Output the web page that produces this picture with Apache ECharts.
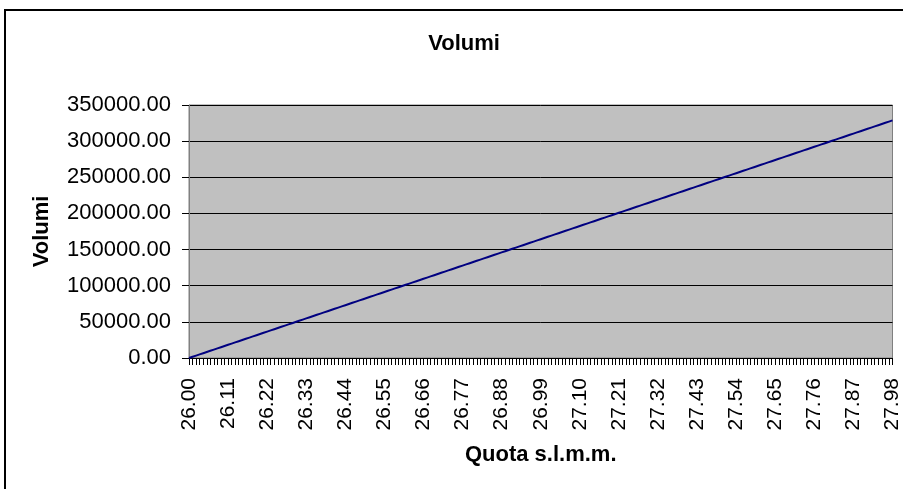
<!DOCTYPE html>
<html>
<head>
<meta charset="utf-8">
<script src="https://cdn.jsdelivr.net/npm/echarts@6/dist/echarts.min.js"></script>
<style>html,body{margin:0;padding:0;background:#fff}#c{width:903px;height:489px}</style>
</head>
<body>
<div id="c"></div>
<script>
var titleText = 'Volumi';
var yName = 'Volumi';
var xName = 'Quota s.l.m.m.';
var quote = [
"26.00","26.01","26.02","26.03","26.04","26.05","26.06","26.07","26.08","26.09",
"26.10","26.11","26.12","26.13","26.14","26.15","26.16","26.17","26.18","26.19",
"26.20","26.21","26.22","26.23","26.24","26.25","26.26","26.27","26.28","26.29",
"26.30","26.31","26.32","26.33","26.34","26.35","26.36","26.37","26.38","26.39",
"26.40","26.41","26.42","26.43","26.44","26.45","26.46","26.47","26.48","26.49",
"26.50","26.51","26.52","26.53","26.54","26.55","26.56","26.57","26.58","26.59",
"26.60","26.61","26.62","26.63","26.64","26.65","26.66","26.67","26.68","26.69",
"26.70","26.71","26.72","26.73","26.74","26.75","26.76","26.77","26.78","26.79",
"26.80","26.81","26.82","26.83","26.84","26.85","26.86","26.87","26.88","26.89",
"26.90","26.91","26.92","26.93","26.94","26.95","26.96","26.97","26.98","26.99",
"27.00","27.01","27.02","27.03","27.04","27.05","27.06","27.07","27.08","27.09",
"27.10","27.11","27.12","27.13","27.14","27.15","27.16","27.17","27.18","27.19",
"27.20","27.21","27.22","27.23","27.24","27.25","27.26","27.27","27.28","27.29",
"27.30","27.31","27.32","27.33","27.34","27.35","27.36","27.37","27.38","27.39",
"27.40","27.41","27.42","27.43","27.44","27.45","27.46","27.47","27.48","27.49",
"27.50","27.51","27.52","27.53","27.54","27.55","27.56","27.57","27.58","27.59",
"27.60","27.61","27.62","27.63","27.64","27.65","27.66","27.67","27.68","27.69",
"27.70","27.71","27.72","27.73","27.74","27.75","27.76","27.77","27.78","27.79",
"27.80","27.81","27.82","27.83","27.84","27.85","27.86","27.87","27.88","27.89",
"27.90","27.91","27.92","27.93","27.94","27.95","27.96","27.97","27.98"
];
var volumi = [
0,1660,3320,4980,6640,8300,9960,11620,13280,14940,
16600,18260,19920,21580,23240,24900,26560,28220,29880,31540,
33200,34860,36520,38180,39840,41500,43160,44820,46480,48140,
49800,51460,53120,54780,56440,58100,59760,61420,63080,64740,
66400,68060,69720,71380,73040,74700,76360,78020,79680,81340,
83000,84660,86320,87980,89640,91300,92960,94620,96280,97940,
99600,101260,102920,104580,106240,107900,109560,111220,112880,114540,
116200,117860,119520,121180,122840,124500,126160,127820,129480,131140,
132800,134460,136120,137780,139440,141100,142760,144420,146080,147740,
149400,151060,152720,154380,156040,157700,159360,161020,162680,164340,
166000,167660,169320,170980,172640,174300,175960,177620,179280,180940,
182600,184260,185920,187580,189240,190900,192560,194220,195880,197540,
199200,200860,202520,204180,205840,207500,209160,210820,212480,214140,
215800,217460,219120,220780,222440,224100,225760,227420,229080,230740,
232400,234060,235720,237380,239040,240700,242360,244020,245680,247340,
249000,250660,252320,253980,255640,257300,258960,260620,262280,263940,
265600,267260,268920,270580,272240,273900,275560,277220,278880,280540,
282200,283860,285520,287180,288840,290500,292160,293820,295480,297140,
298800,300460,302120,303780,305440,307100,308760,310420,312080,313740,
315400,317060,318720,320380,322040,323700,325360,327020,328680
];
var yMax = 350000, yStep = 50000;

var font = '"Liberation Sans", Arial, sans-serif';
var chart = echarts.init(document.getElementById('c'), null, {renderer: 'canvas'});
chart.setOption({
  animation: false,
  backgroundColor: '#ffffff',
  title: {
    text: titleText, left: 459, top: 28, textAlign: 'center',
    textStyle: {fontFamily: font, fontSize: 22, fontWeight: 'bold', color: '#000'}
  },
  graphic: [{
    type: 'rect', shape: {x: 5, y: 10, width: 1000, height: 1000},
    style: {fill: 'none', stroke: '#000', lineWidth: 2}, z: 100
  }],
  grid: {left: 189, right: 10, top: 105, bottom: 131, show: true,
    backgroundColor: '#c0c0c0', borderColor: '#808080', borderWidth: 1},
  xAxis: {
    type: 'category', data: quote, boundaryGap: false,
    name: xName, nameLocation: 'middle', nameGap: 86,
    nameTextStyle: {fontFamily: font, fontSize: 22, fontWeight: 'bold', color: '#000'},
    axisLine: {lineStyle: {color: '#000', width: 1}},
    axisTick: {show: true, interval: 0, length: 7, lineStyle: {color: '#000'}},
    axisLabel: {interval: 10, rotate: 90, margin: 20, fontFamily: font, fontSize: 21, color: '#000'},
    splitLine: {show: false}
  },
  yAxis: {
    type: 'value', min: 0, max: yMax, interval: yStep,
    name: yName, nameLocation: 'middle', nameGap: 136, nameRotate: 90,
    nameTextStyle: {fontFamily: font, fontSize: 22, fontWeight: 'bold', color: '#000'},
    axisLine: {show: true, lineStyle: {color: '#808080'}},
    axisTick: {show: true, length: 7, lineStyle: {color: '#000'}},
    axisLabel: {margin: 18, fontFamily: font, fontSize: 22, color: '#000',
      formatter: function (v) { return v.toFixed(2); }},
    splitLine: {show: true, lineStyle: {color: '#000', width: 1}}
  },
  series: [{
    type: 'line', data: volumi, showSymbol: false, symbol: 'none',
    lineStyle: {color: '#000080', width: 2}
  }]
});
</script>
</body>
</html>
